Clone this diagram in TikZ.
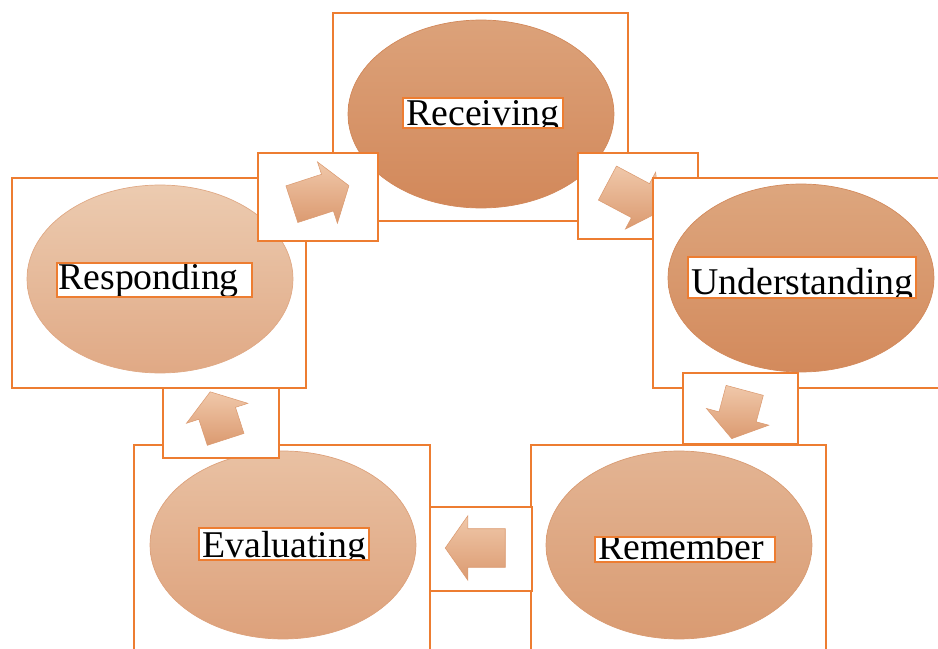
\documentclass[tikz,border=0pt]{standalone}
\usepackage{fontspec}
\setmainfont{Liberation Serif}
\usetikzlibrary{shapes.geometric,shapes.arrows}
\definecolor{lineorange}{HTML}{ED7D31}
\definecolor{arrowtop}{HTML}{F0C8AA}
\definecolor{arrowbot}{HTML}{DB9A70}
\definecolor{recvtop}{HTML}{DCA27A}
\definecolor{recvbot}{HTML}{D2885A}
\definecolor{undtop}{HTML}{DDA67E}
\definecolor{undbot}{HTML}{D38A5C}
\definecolor{remtop}{HTML}{E3B493}
\definecolor{rembot}{HTML}{D99B72}
\definecolor{evaltop}{HTML}{E9C1A3}
\definecolor{evalbot}{HTML}{DDA17B}
\definecolor{resptop}{HTML}{ECCBB0}
\definecolor{respbot}{HTML}{E0A985}
\tikzset{
  boxline/.style={draw=lineorange, line width=1.4pt, fill=white},
  labelline/.style={draw=lineorange, line width=1.2pt},
  stage/.style 2 args={ellipse, inner sep=0pt, minimum width=5.32cm,
    minimum height=3.76cm, top color=#1, bottom color=#2, draw=#2, line width=0.4pt},
  blockarrow/.style={single arrow, inner xsep=0pt, inner ysep=0.38cm,
    text height=0pt, text depth=0pt, minimum height=1.2cm,
    single arrow head extend=0.26cm, single arrow tip angle=110,
    top color=arrowtop, bottom color=arrowbot, draw=arrowbot, line width=0.3pt},
  shortarrow/.style={blockarrow, minimum height=1.0cm}
}
\begin{document}
\begin{tikzpicture}[x=0.02cm, y=-0.02cm,
    word/.style={inner sep=0pt, anchor=base west, font=\fontsize{21.5}{24}\selectfont}]
  \clip (0,0) rectangle (938,649);
  \fill[white] (0,0) rectangle (938,649);
  % receiving
  \draw[boxline] (333,13) rectangle (628,221);
  \node[stage={recvtop}{recvbot}] (receiving) at (481,114) {};
  \draw[boxline] (578,153) rectangle (698,239);
  \node[blockarrow, rotate=-28] (tounderstanding) at (628,194) {};
  % understanding
  \draw[boxline] (653,178) rectangle (948,388);
  \node[stage={undtop}{undbot}] (understanding) at (801,278) {};
  \draw[boxline] (683,373) rectangle (798,444);
  \node[shortarrow, rotate=-105] (toremember) at (740,408) {};
  % remember
  \draw[boxline] (531,445) rectangle (826,655);
  \node[stage={remtop}{rembot}] (remember) at (679,545) {};
  \draw[boxline] (430,507) rectangle (532,591);
  \node[blockarrow, rotate=180] (toevaluating) at (482,548) {};
  % evaluating
  \draw[boxline] (134,445) rectangle (430,655);
  \node[stage={evaltop}{evalbot}] (evaluating) at (283,545) {};
  \draw[boxline] (163,387) rectangle (279,458);
  \node[shortarrow, rotate=108] (toresponding) at (220,422) {};
  % responding
  \draw[boxline] (12,178) rectangle (306,388);
  \node[stage={resptop}{respbot}] (responding) at (160,279) {};
  \draw[boxline] (258,153) rectangle (378,241);
  \node[blockarrow, rotate=18] (toreceiving) at (314,197) {};
  % labels
  \foreach \nm/\xa/\ya/\xb/\yb/\tx/\ty/\txt in {
      receivingtext/403/98/563/128/406/125/Receiving,
      understandingtext/688/257/916/298/691/294/Understanding,
      remembertext/595/537/775/562/598/559/Remember,
      evaluatingtext/199/528/369/560/202/557/Evaluating,
      respondingtext/57/263/252/297/58/289/Responding} {
    \fill[white] (\xa,\ya) rectangle (\xb,\yb);
    \begin{scope}
      \clip (\xa,\ya) rectangle (\xb,\yb);
      \node[word] (\nm) at (\tx,\ty) {\txt};
    \end{scope}
    \draw[labelline] (\xa,\ya) rectangle (\xb,\yb);
  }
\end{tikzpicture}
\end{document}
